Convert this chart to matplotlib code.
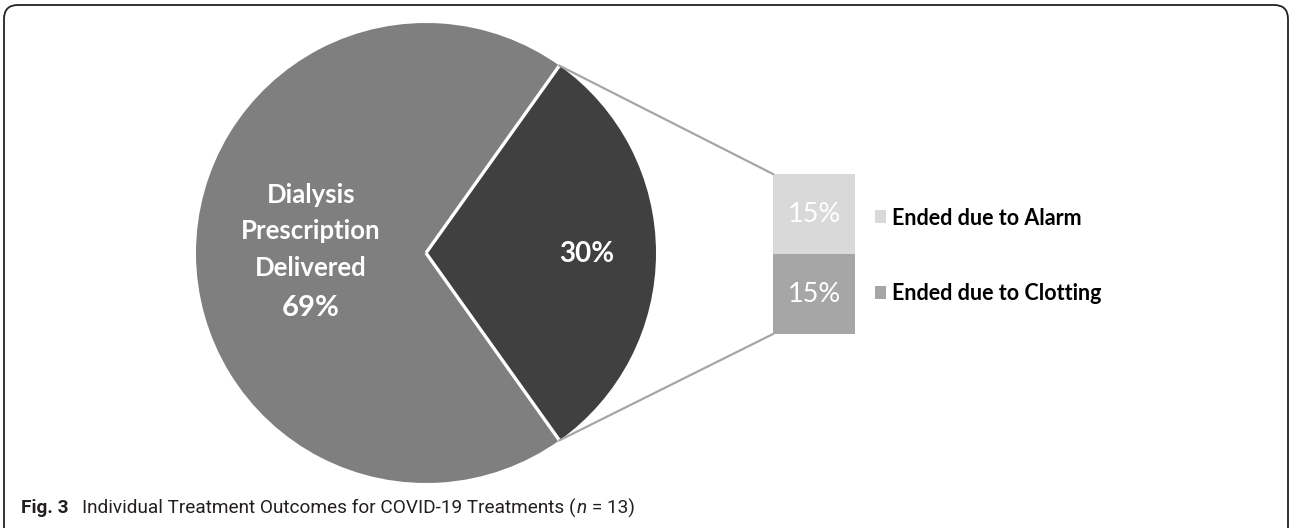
import matplotlib
matplotlib.use("Agg")
import matplotlib.pyplot as plt
from matplotlib.patches import FancyBboxPatch, Patch
import numpy as np

# ---- data ----
main_pct = [30, 69]
main_label = ["Dialysis", "Prescription", "Delivered"]
sub_labels = ["Ended due to Clotting", "Ended due to Alarm"]
sub_pct = [15, 15]

main_colors = ["#404040", "#7f7f7f"]
sub_colors = ["#a6a6a6", "#d9d9d9"]

lab_font = ["Lato", "DejaVu Sans"]
cap_font = ["Roboto", "DejaVu Sans"]

W, H = 1290, 528
fig = plt.figure(figsize=(W / 100, H / 100), dpi=100)
ax = fig.add_axes([0, 0, 1, 1])

def Y(y):
    # image row -> data y
    return H - y

# ---- pie ----
cx, cy, r = 426, Y(253), 230
frac = main_pct[0] / sum(main_pct)
wedges, _ = ax.pie(main_pct, colors=main_colors, center=(cx, cy), radius=r,
                   startangle=-frac * 180, counterclock=True,
                   wedgeprops=dict(edgecolor="none"))
t1, t2 = np.radians(wedges[0].theta1), np.radians(wedges[0].theta2)
for t in (t1, t2):
    ax.plot([cx, cx + r * np.cos(t)], [cy, cy + r * np.sin(t)],
            color="white", lw=2.4, solid_capstyle="butt")

for txt, yy in zip(main_label, [195, 231, 268]):
    ax.text(311, Y(yy), txt, ha="center", va="center", color="white",
            fontsize=18.5, fontweight="bold", family=lab_font)
ax.text(311, Y(308), f"{main_pct[1]}%", ha="center", va="center", color="white",
        fontsize=21, fontweight="bold", family=lab_font)
ax.text(587, Y(254), f"{main_pct[0]}%", ha="center", va="center", color="white",
        fontsize=20, fontweight="bold", family=lab_font)

# ---- stacked bar ----
bx, bw = 814, 82
bbottom = Y(334)
unit = 80 / 15  # pixels per percent
bottom = bbottom
for lab, v, c in zip(sub_labels, sub_pct, sub_colors):
    ax.bar(bx, v * unit, width=bw, bottom=bottom, color=c, edgecolor="none")
    ax.text(bx, bottom + v * unit / 2, f"{v}%", ha="center", va="center",
            color="white", fontsize=19.5, family=lab_font)
    bottom += v * unit
btop = bottom

# connector lines
ax.plot([cx + r * np.cos(t2), bx - bw / 2], [cy + r * np.sin(t2), btop],
        color="#a6a6a6", lw=1.6)
ax.plot([cx + r * np.cos(t1), bx - bw / 2], [cy + r * np.sin(t1), bbottom],
        color="#a6a6a6", lw=1.6)

# legend
handles = [Patch(facecolor=sub_colors[1], edgecolor="none"),
           Patch(facecolor=sub_colors[0], edgecolor="none")]
ax.legend(handles, [sub_labels[1], sub_labels[0]], loc="center left",
          bbox_to_anchor=(866 / W, 1 - 256 / H), frameon=False,
          prop=dict(family=lab_font, weight="bold", size=15.5),
          handlelength=0.55, handleheight=0.55, handletextpad=0.25,
          labelspacing=2.55, borderaxespad=0)

# ---- border (open at the bottom) ----
box = FancyBboxPatch((16, -20), W - 30, H + 3,
                     boxstyle="round,pad=12,rounding_size=14",
                     facecolor="none", edgecolor="#222222", lw=1.3)
ax.add_patch(box)

ax.set_xlim(0, W)
ax.set_ylim(0, H)
ax.set_aspect("auto")
ax.axis("off")

# ---- caption ----
fig.canvas.draw()
rend = fig.canvas.get_renderer()
cap_y = Y(508)
parts = [("Fig. 3", "bold", "normal", 0),
         ("Individual Treatment Outcomes for COVID-19 Treatments (", "normal", "normal", 14),
         ("n", "normal", "italic", 1),
         ("\u2009= 13)", "normal", "normal", 1)]
xpos = 21
for txt, wt, st, gap in parts:
    xpos += gap
    t = ax.text(xpos, cap_y, txt, ha="left", va="center", fontsize=13.7,
                family=cap_font, fontweight=wt, fontstyle=st, color="#231f20")
    bb = t.get_window_extent(rend)
    xpos = bb.x1

fig.savefig("out.png", dpi=100)
